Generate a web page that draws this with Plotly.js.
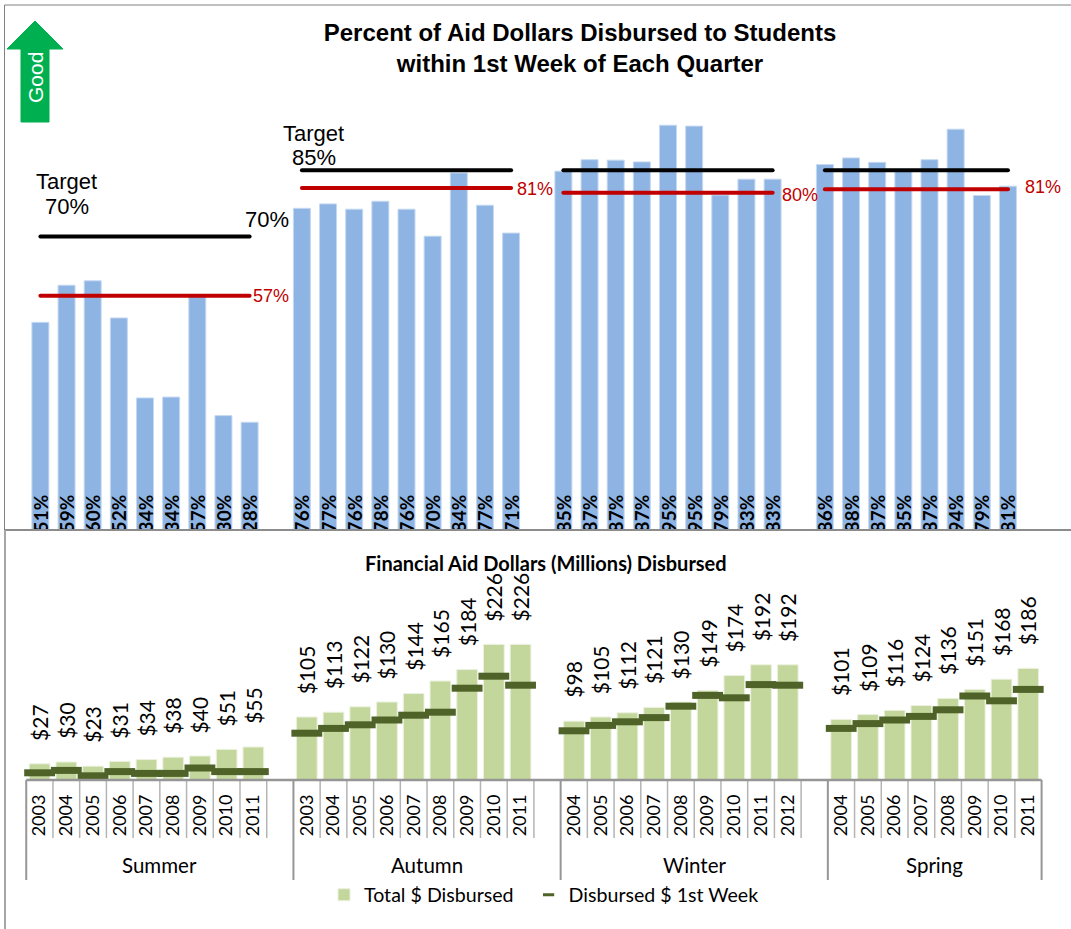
<!DOCTYPE html>
<html><head><meta charset="utf-8">
<script src="https://cdn.plot.ly/plotly-3.0.1.min.js"></script>
<style>html,body{margin:0;padding:0;background:#fff}#c{width:1071px;height:929px}
#c .scatterlayer path.js-line{stroke-linecap:round}</style></head>
<body><div id="c"></div>
<script>
// ---- data ----
const summerPct=[50.6,59,60,51.6,33.5,33.7,56.8,29.5,28];
const autumnPct=[76.4,77.4,76.2,78,76.2,70.1,84.4,77.1,70.8];
const winterPct=[84.8,87.4,87.3,86.9,95.2,95,79.4,83,83];
const springPct=[86.3,87.8,86.8,85,87.4,94.3,79.3,81.4];
const summerYears=['2003','2004','2005','2006','2007','2008','2009','2010','2011'];
const autumnYears=['2003','2004','2005','2006','2007','2008','2009','2010','2011'];
const winterYears=['2004','2005','2006','2007','2008','2009','2010','2011','2012'];
const springYears=['2004','2005','2006','2007','2008','2009','2010','2011'];
const summerTotal=[27,30,23,31,34,38,40,51,55];
const autumnTotal=[105,113,122,130,144,165,184,226,226];
const winterTotal=[98,105,112,121,130,149,174,192,192];
const springTotal=[101,109,116,124,136,151,168,186];
const summerFirst=[12,16,7,14,11,11,20,14,14];
const autumnFirst=[78,86,92,100,108,113,153,173,158];
const winterFirst=[82,91,97,104,123,141,137,159,158];
const springFirst=[86,94,100,106,117,140,132,151];
const groups=['Summer','Autumn','Winter','Spring'];
const targets=[70,85,85,85];
const actuals=[56.6,81,79.9,80.7];

// ---- assembly ----
const groupPct=[summerPct,autumnPct,winterPct,springPct];
const groupYears=[summerYears,autumnYears,winterYears,springYears];
const groupTotal=[summerTotal,autumnTotal,winterTotal,springTotal];
const groupFirst=[summerFirst,autumnFirst,winterFirst,springFirst];
const W=1071,H=929;
const fx=p=>p/W, fy=p=>(H-p)/H;
const starts=[0,10,20,30];
const idx=[],pct=[],yrs=[],tot=[],first=[];
groups.forEach((g,k)=>groupPct[k].forEach((v,i)=>{
  idx.push(starts[k]+i);pct.push(v);yrs.push(groupYears[k][i]);
  tot.push(groupTotal[k][i]);first.push(groupFirst[k][i]);
}));
const LABEL_BASE=2.4;
const traces=[{
  type:'bar',x:idx,y:pct.map(v=>v-LABEL_BASE),base:LABEL_BASE,width:0.65,
  marker:{color:'#8EB4E3',line:{color:'#C6D9F1',width:1}},
  text:pct.map(v=>Math.round(v)+'%'),textposition:'inside',insidetextanchor:'start',textangle:-90,
  constraintext:'none',cliponaxis:true,
  insidetextfont:{family:'Lato',size:19,weight:700,color:'#000'},
  xaxis:'x',yaxis:'y',showlegend:false,hoverinfo:'skip'
}];
groups.forEach((g,k)=>{
  const a=starts[k],b=a+groupPct[k].length-1;
  traces.push({type:'scatter',mode:'lines',x:[a,b],y:[targets[k],targets[k]],xaxis:'x',yaxis:'y',
    line:{color:'#000',width:4},showlegend:false,hoverinfo:'skip'});
  traces.push({type:'scatter',mode:'lines',x:[a,b],y:[actuals[k],actuals[k]],xaxis:'x',yaxis:'y',
    line:{color:'#C00000',width:4},showlegend:false,hoverinfo:'skip'});
});
traces.push({type:'bar',name:'Total $ Disbursed\u00A0\u00A0',x:idx,y:tot,width:0.775,xaxis:'x2',yaxis:'y2',
  marker:{color:'#C3D69B',line:{color:'#EBF1DE',width:1}},hoverinfo:'skip'});
traces.push({type:'scatter',mode:'markers',name:'Disbursed $ 1st Week',x:idx,y:first,xaxis:'x2',yaxis:'y2',showlegend:false,
  marker:{symbol:'line-ew',size:22,color:'#4F6228',line:{color:'#4F6228',width:7}},hoverinfo:'skip'});
traces.push({type:'scatter',mode:'markers',name:'Disbursed $ 1st Week',x:[null],y:[null],xaxis:'x2',yaxis:'y2',
  marker:{symbol:'line-ew',size:8,color:'#4F6228',line:{color:'#4F6228',width:3}},hoverinfo:'skip'});

const ann=[];
const arial='Liberation Sans', cal='Lato';
function note(text,x,y,size,color,extra){ann.push(Object.assign({xref:'paper',yref:'paper',x:fx(x),y:fy(y),text:text,showarrow:false,
  xanchor:'center',yanchor:'middle',font:{family:arial,size:size,color:color}},extra||{}));}
note('Good',35,78,21,'#fff',{textangle:-90});
note('Target',66.5,182,22,'#000');
note(targets[0]+'%',66.5,206,22,'#000');
note('Target',313.5,133,22,'#000');
note(targets[1]+'%',313.5,158,22,'#000');
note(targets[0]+'%',266.5,220,22,'#000');
note(Math.round(actuals[0])+'%',271,296,18,'#C00000');
note(Math.round(actuals[1])+'%',534.5,189,18,'#C00000');
note(Math.round(actuals[2])+'%',800,195,18,'#C00000');
note(Math.round(actuals[3])+'%',1042.5,187,18,'#C00000');
ann.push({xref:'paper',yref:'paper',x:fx(545.5),y:fy(563),text:'Financial Aid Dollars (Millions) Disbursed',showarrow:false,
  xanchor:'center',yanchor:'middle',font:{family:cal,size:20,weight:700,color:'#000'}});
idx.forEach((x,i)=>ann.push({xref:'x2',yref:'y2',x:x,y:tot[i],yshift:21,yanchor:'bottom',xanchor:'center',showarrow:false,
  text:'$'+tot[i],textangle:-90,font:{family:cal,size:21,color:'#000'}}));
groups.forEach((g,k)=>{
  ann.push({xref:'x2',yref:'paper',x:starts[k]+(k<3?4.5:3.5),y:fy(865),text:g,showarrow:false,xanchor:'center',yanchor:'middle',
    font:{family:cal,size:20.5,color:'#000'}});
});

const shapes=[];
const gray='#969696';
for(let i=0;i<=38;i++){
  const isGroup=starts.includes(i)||i===38;
  shapes.push({type:'line',xref:'x2',yref:'paper',x0:i-0.5,x1:i-0.5,y0:fy(780),y1:fy(isGroup?880:838),
    line:{color:isGroup?gray:'#B4B4B4',width:isGroup?2:1.5}});
}
shapes.push({type:'line',xref:'x2',yref:'paper',x0:-0.5,x1:37.5,y0:fy(780),y1:fy(780),line:{color:gray,width:2.5}});
shapes.push({type:'line',xref:'paper',yref:'paper',x0:fx(5),x1:1,y0:fy(530),y1:fy(530),line:{color:'#8C8C8C',width:2}});
shapes.push({type:'line',xref:'paper',yref:'paper',x0:fx(5),x1:fx(5),y0:fy(530),y1:0,line:{color:'#A6A6A6',width:2}});
shapes.push({type:'line',xref:'paper',yref:'paper',x0:fx(4.5),x1:fx(4.5),y0:fy(5),y1:fy(530),line:{color:'#808080',width:1}});
shapes.push({type:'line',xref:'paper',yref:'paper',x0:fx(4.5),x1:1,y0:fy(5),y1:fy(5),line:{color:'#808080',width:1}});
const arrowPts=[[35,21],[63,49],[49,49],[49,122],[21,122],[21,49],[7,49]];
shapes.push({type:'path',xref:'paper',yref:'paper',layer:'below',
  path:'M'+arrowPts.map(p=>fx(p[0])+','+fy(p[1])).join(' L')+' Z',fillcolor:'#00B050',line:{color:'#00B050',width:1}});

const layout={
  width:W,height:H,margin:{l:0,r:0,t:0,b:0,autoexpand:false},
  paper_bgcolor:'#fff',plot_bgcolor:'rgba(0,0,0,0)',barmode:'overlay',
  font:{family:cal,color:'#000'},
  title:{text:'Percent of Aid Dollars Disbursed to Students<br>within 1st Week of Each Quarter',
    x:fx(580),xanchor:'center',y:fy(41),yanchor:'middle',xref:'paper',yref:'paper',
    font:{family:arial,size:24,weight:700,color:'#000'}},
  xaxis:{domain:[0,1],range:[-40.4/26.15,(W-40.4)/26.15],visible:false,fixedrange:true},
  yaxis:{domain:[fy(530),fy(100)],range:[(546-530)/4.42,(546-100)/4.42],visible:false,fixedrange:true},
  xaxis2:{domain:[0,1],range:[-39.6/26.72,(W-39.6)/26.72],anchor:'y2',showgrid:false,zeroline:false,showline:false,
    tickmode:'array',tickvals:idx,ticktext:yrs,tickangle:-90,ticks:'',ticklabelstandoff:10,
    tickfont:{family:cal,size:18,color:'#000'},fixedrange:true},
  yaxis2:{domain:[fy(780),fy(540)],range:[0,240/0.6],visible:false,fixedrange:true},
  legend:{orientation:'h',x:fx(324),y:fy(895),xanchor:'left',yanchor:'middle',font:{family:cal,size:19.6,color:'#000'},
    bgcolor:'rgba(0,0,0,0)',itemwidth:30,tracegroupgap:0},
  annotations:ann,shapes:shapes
};
Plotly.newPlot('c',traces,layout,{displayModeBar:false,staticPlot:true});
</script></body></html>
